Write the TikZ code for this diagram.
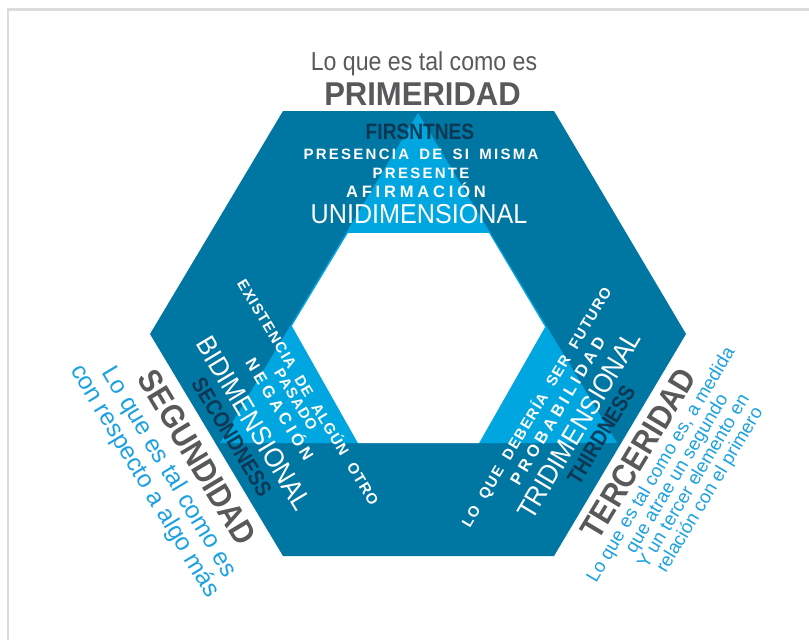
\documentclass[tikz,border=0pt]{standalone}
\usepackage{fontspec}
\setmainfont{Liberation Sans}
\newfontfamily\headfont[FakeStretch=0.94]{Liberation Sans}
\newfontfamily\sidefont[FakeStretch=0.89]{Liberation Sans}
\newfontfamily\condfont[FakeStretch=0.89]{Liberation Sans}
\newfontfamily\ordfont[FakeStretch=0.86]{Liberation Sans}
\newfontfamily\dimfont[FakeStretch=0.92]{Liberation Sans}
\newfontfamily\spacedfont[LetterSpace=15,WordSpace=1.6]{Liberation Sans}
\newfontfamily\sidespacedfont[LetterSpace=8,WordSpace=2]{Liberation Sans}
\newfontfamily\widefont[LetterSpace=23,WordSpace=2]{Liberation Sans}
\definecolor{hexdark}{RGB}{0,118,163}
\definecolor{hexlight}{RGB}{0,166,224}
\definecolor{titlegray}{RGB}{88,89,91}
\definecolor{textcyan}{RGB}{27,161,226}
\definecolor{ordnavy}{RGB}{16,45,70}
\definecolor{framegray}{RGB}{220,220,220}

\begin{document}
\begin{tikzpicture}[x=0.75pt,y=0.75pt,yscale=-1,xscale=1,
    titlelo/.style={anchor=base,inner sep=0pt,text=titlegray,font=\condfont\fontsize{19.5}{20}\selectfont},
    titlebig/.style={anchor=base,inner sep=0pt,text=titlegray,font=\headfont\bfseries\fontsize{24.75}{26}\selectfont},
    sidetitle/.style={anchor=base,inner sep=0pt,text=titlegray,font=\sidefont\bfseries\fontsize{24.75}{26}\selectfont},
    ordtext/.style={anchor=base,inner sep=0pt,text=ordnavy,text opacity=0.85,font=\ordfont\bfseries\fontsize{16.7}{18}\selectfont},
    smallspaced/.style={anchor=base,inner sep=0pt,text=white,font=\spacedfont\bfseries\fontsize{11.25}{12}\selectfont},
    sidespaced/.style={anchor=base,inner sep=0pt,text=white,font=\sidespacedfont\bfseries\fontsize{11.25}{12}\selectfont},
    bigspaced/.style={anchor=base,inner sep=0pt,text=white,font=\widefont\bfseries\fontsize{12.4}{13}\selectfont},
    dimtext/.style={anchor=base,inner sep=0pt,text=white,font=\dimfont\fontsize{20.5}{22}\selectfont},
    leftcyan/.style={anchor=base,inner sep=0pt,text=textcyan,font=\fontsize{18.4}{19}\selectfont},
    rightcyan/.style={anchor=base,inner sep=0pt,text=textcyan,font=\fontsize{14}{15}\selectfont}]
\useasboundingbox (0,0) rectangle (809,640);
% page frame
\draw [color=framegray, line width=1.9] (809,9.5) -- (8,9.5) -- (8,640);

% hexagon, triangle and the hole
\draw [draw=none, fill=hexdark] (283,111) -- (554,111) -- (686,334) -- (554,556) -- (283,556) -- (150,334) -- cycle;
\draw [draw=none, fill=hexlight] (418,113) -- (617,443) -- (220,443) -- cycle;
\draw [draw=none, fill=white] (348,233) -- (489,233) -- (545,327) -- (479,443) -- (358,443) -- (292,326) -- cycle;

% primeridad
\node (quees) [titlelo] at (424,70) {Lo que es tal como es};
\node (primeridad) [titlebig] at (422.5,105) {PRIMERIDAD};
\node (firstness) [ordtext] at (420,139.3) {FIRSNTNES};
\node (presencia) [smallspaced] at (421,159) {PRESENCIA DE SI MISMA};
\node (presente) [smallspaced] at (421,178.3) {PRESENTE};
\node (afirmacion) [bigspaced] at (416,197.3) {AFIRMACIÓN};
\node (unidim) [dimtext] at (419,223.3) {UNIDIMENSIONAL};

% segundidad
\begin{scope}[shift={(254.4,423.4)}, rotate=59]
\node (existencia) [sidespaced, rotate=-59] at (1,-56.7) {EXISTENCIA DE ALGÚN OTRO};
\node (pasado) [sidespaced, rotate=-59] at (1,-42.7) {PASADO};
\node (negacion) [bigspaced, rotate=-59] at (1,-23) {NEGACIÓN};
\node (bidim) [dimtext, rotate=-59] at (0,9.7) {BIDIMENSIONAL};
\node (secondness) [ordtext, rotate=-59] at (0,34) {SECONDNESS};
\node (segundidad) [sidetitle, rotate=-59] at (0,77.8) {SEGUNDIDAD};
\node (segundo1) [leftcyan, rotate=-59] at (-2,105) {Lo que es tal como es};
\node (segundo2) [leftcyan, rotate=-59] at (-7,130.6) {con respecto a algo más};
\end{scope}

% terceridad
\begin{scope}[shift={(581.9,419.6)}, rotate=-59]
\node (futuro) [sidespaced, rotate=59] at (-12.7,-40.2) {LO QUE DEBERÍA SER FUTURO};
\node (probab) [bigspaced, rotate=59] at (-5,-19.6) {PROBABILIDAD};
\node (tridim) [dimtext, rotate=59] at (-6,9.7) {TRIDIMENSIONAL};
\node (thirdness) [ordtext, rotate=59] at (-3,32) {THIRDNESS};
\node (terceridad) [sidetitle, rotate=59] at (0,77.4) {TERCERIDAD};
\node (tercero1) [rightcyan, rotate=59] at (2,96.5) {Lo que es tal como es, a medida};
\node (tercero2) [rightcyan, rotate=59] at (2.6,114.8) {que atrae un segundo};
\node (tercero3) [rightcyan, rotate=59] at (4.6,133.1) {Y un tercer elemento en};
\node (tercero4) [rightcyan, rotate=59] at (5.6,151.4) {relación con el primero};
\end{scope}
\end{tikzpicture}
\end{document}
